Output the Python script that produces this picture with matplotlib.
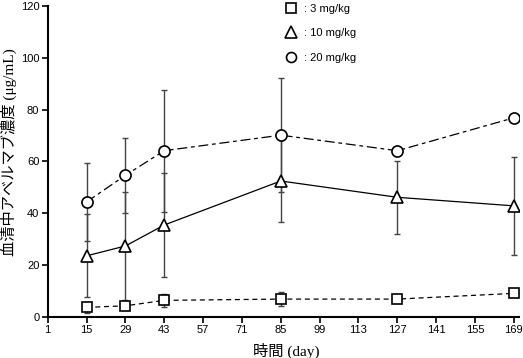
import matplotlib
matplotlib.use("Agg")
import matplotlib.pyplot as plt

plt.rcParams['font.family'] = ['Noto Sans CJK JP', 'DejaVu Sans']

days = [15, 29, 43, 85, 127, 169]
xticks = [1, 15, 29, 43, 57, 71, 85, 99, 113, 127, 141, 155, 169]
yticks = [0, 20, 40, 60, 80, 100, 120]

low_mean = [3.6, 4.2, 6.3, 6.8, 6.8, 9.0]
low_sd = [2.0, 1.5, 2.5, 2.8, 0.0, 0.0]
mid_mean = [23.5, 27.3, 35.4, 52.4, 46.1, 42.8]
mid_sd = [16.0, 21.0, 20.0, 16.0, 14.2, 18.8]
high_mean = [44.3, 54.6, 64.1, 70.1, 64.1, 76.8]
high_sd = [15.0, 14.4, 23.6, 22.0, 0.0, 0.0]

labels = [': 3 mg/kg', ': 10 mg/kg', ': 20 mg/kg']

fig = plt.figure(figsize=(5.23, 3.58), dpi=100)
ax = fig.add_axes([0.0912, 0.1154, 0.902, 0.868])

ecol = '#444444'

def series(mean, sd, marker, ls, ms, lab):
    ax.errorbar(days, mean, yerr=sd, fmt='none', ecolor=ecol, elinewidth=1.0,
                capsize=2.2, capthick=1.0, zorder=2)
    ax.plot(days, mean, color='black', ls=ls, lw=0.9, zorder=3)
    ax.plot(days, mean, ls='none', marker=marker, ms=ms, mfc='white',
            mec='black', mew=1.2, zorder=4, label=lab)

series(low_mean, low_sd, 's', (0, (4, 3)), 7.5, labels[0])
series(mid_mean, mid_sd, '^', '-', 9, labels[1])
series(high_mean, high_sd, 'o', (0, (8, 3, 3, 3)), 8, labels[2])

ax.set_xlim(1, 171)
ax.set_ylim(0, 120)
ax.set_xticks(xticks)
ax.set_yticks(yticks)
ax.tick_params(direction='out', length=4, width=1.2, labelsize=8, pad=2)
for lbl in ax.get_xticklabels() + ax.get_yticklabels():
    lbl.set_family(['Liberation Sans', 'DejaVu Sans'])
for s in ['top', 'right']:
    ax.spines[s].set_visible(False)
for s in ['left', 'bottom']:
    ax.spines[s].set_linewidth(1.5)

mixed = ['Liberation Serif', 'Noto Sans CJK JP']
ax.set_xlabel('時間 (day)', fontsize=11, family=mixed)
ax.xaxis.set_label_coords(0.505, -0.085)
ax.set_ylabel('血清中アベルマブ濃度 (μg/mL)', fontsize=11, family=mixed)
ax.yaxis.set_label_coords(-0.066, 0.53)

leg = ax.legend(loc='upper left', bbox_to_anchor=(0.4836, 1.039), frameon=False,
                prop={'family': ['Liberation Sans', 'DejaVu Sans'], 'size': 8},
                handlelength=1.0, handletextpad=0.6, labelspacing=1.3,
                markerscale=0.9)

fig.savefig('out.png', dpi=100)
